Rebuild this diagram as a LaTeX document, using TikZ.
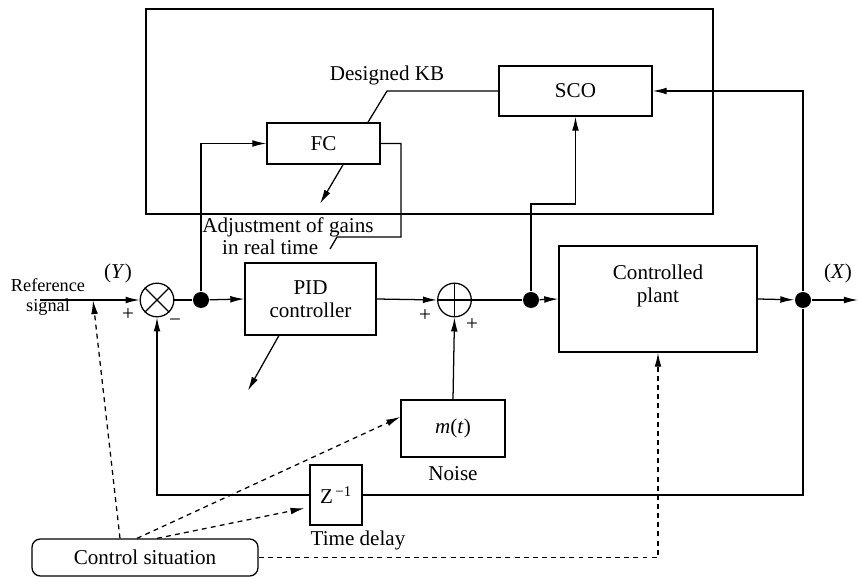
\documentclass[tikz,border=0pt]{standalone}
\usepackage{fontspec}
\setmainfont{Liberation Serif}
\usetikzlibrary{arrows.meta,positioning}

\begin{document}
\begin{tikzpicture}[x=0.025cm,y=-0.025cm,line width=0.9pt,
  font=\fontsize{15pt}{16pt}\selectfont,
  >={Latex[length=10pt,width=4.8pt]},
  blk/.style={draw,align=center,inner sep=0pt},
  junc/.style={circle,fill,inner sep=0pt,minimum size=0.4cm},
  sumc/.style={circle,draw,inner sep=0pt,minimum size=0.84cm},
  dsh/.style={dash pattern=on 3.5pt off 3pt},
  lbl/.style={inner sep=1pt,align=center}]
\useasboundingbox (0,0) rectangle (858,577);
\draw (146,9) rectangle (713,214);
\node[blk,minimum width=3.825cm,minimum height=1.25cm] (sco) at (575.5,91) {SCO};
\node[blk,minimum width=2.825cm,minimum height=1.025cm] (fc) at (323.5,143.5) {FC};
\node[blk,minimum width=3.275cm,minimum height=1.8cm] (pid) at (310.5,299) {PID\\controller};
\node[blk,minimum width=4.95cm,minimum height=2.65cm] (plant) at (658,299) {};
\node[lbl] (plantlbl) at (658,286) {Controlled\\plant};
\node[blk,minimum width=2.6cm,minimum height=1.425cm] (mt) at (453,428.5) {\textit{m}(\textit{t})};
\node[blk,minimum width=1.3cm,minimum height=1.5cm] (z) at (336,495) {Z\textsuperscript{\,−1}};
\node[blk,rounded corners=6pt,minimum width=5.65cm,minimum height=0.925cm] (cs) at (145,557.5) {Control situation};
\node[sumc] (mul) at (157,300) {};
\draw (mul.north west) -- (mul.south east) (mul.north east) -- (mul.south west);
\node[sumc] (add) at (454.5,300) {};
\draw (add.north) -- (add.south) (add.west) -- (add.east);
\node[junc] (d1) at (201,300) {};
\node[junc] (d2) at (531,300) {};
\node[junc] (d3) at (803,300) {};
\coordinate (rin) at (40,300);
\coordinate (rpt) at (93,300);
\coordinate (xout) at (858,300);
\node[lbl,font=\fontsize{13pt}{14pt}\selectfont] (ref) at (48,297) {Reference\\signal};
\node[lbl] (ylbl) at (118,273) {(\textit{Y})};
\node[lbl] (xlbl) at (838,273) {(\textit{X})};
\node[lbl] (p1) at (128,315) {+};
\node[lbl] (m1) at (175,323) {−};
\node[lbl] (p2) at (425,316) {+};
\node[lbl] (p3) at (472,325) {+};
\node[lbl] (noise) at (453,474) {Noise};
\node[lbl] (tdel) at (358,540) {Time delay};
\node[lbl] (kb) at (387,75) {Designed KB};
\node[lbl,align=left] (adj) at (288,236) {Adjustment of gains\\\hspace*{14pt}in real time};
\draw[->] (rin) -- (mul.west);
\draw (mul.east) -- (d1);
\draw[->] (d1) -- (pid.west);
\draw[->] (d1) |- (fc.west);
\draw (fc.east) -| (401,237) -- (337,237) -- (330,249);
\draw[->] ([xshift=0.49cm]fc.south) -- ++(-23,39);
\draw ([xshift=1.11cm]fc.north) -- (387,91) -- (sco.west);
\draw[->] (pid.east) -- (add.west);
\draw[->] ([xshift=-0.79cm]pid.south) -- ++(-31,55);
\draw (add.east) -- (d2);
\draw[->] (d2) -- (plant.west);
\draw[->] (d2) -- (531,204) -| (sco.south);
\draw[->] (mt.north) -- (add.south);
\draw[->] (plant.east) -- (d3);
\draw[->] (d3) -- (xout);
\draw[->] (d3) |- (sco.east);
\draw (d3) |- (z.east);
\draw[->] (z.west) -| (mul.south);
\draw[dsh,->] ([xshift=-0.625cm]cs.north) -- (rpt);
\draw[dsh,->] ([xshift=-0.2cm]cs.north) -- ([yshift=0.29cm]mt.west);
\draw[dsh,->] ([xshift=0.3cm]cs.north) -- ([xshift=-0.12cm,yshift=-0.33cm]z.west);
\draw[dsh,->] (cs.east) -| (plant.south);
\end{tikzpicture}
\end{document}
